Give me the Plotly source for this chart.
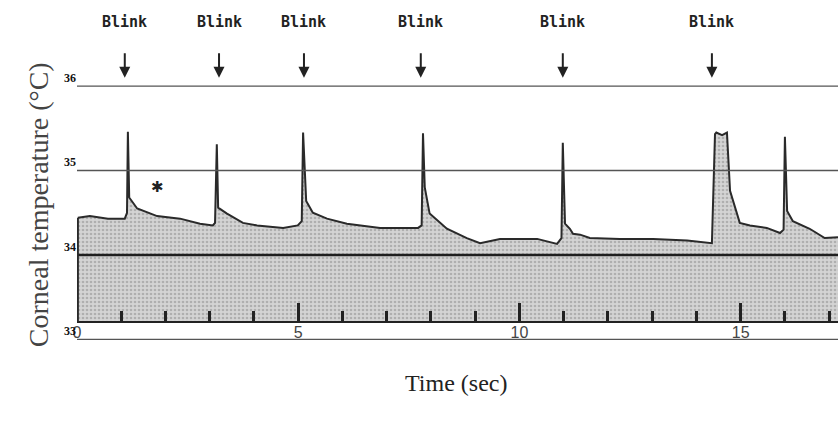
import plotly.graph_objects as go

# ---- data ----
TIME = [0.02, 0.29, 0.70, 1.08, 1.13, 1.15, 1.18, 1.36, 1.81, 2.33, 2.78, 3.07, 3.12, 3.16, 3.19,
        3.39, 3.75, 4.07, 4.66, 4.99, 5.08, 5.11, 5.18, 5.33, 5.65, 6.10, 6.85, 7.71, 7.79, 7.82,
        7.86, 7.97, 8.36, 8.81, 9.11, 9.56, 10.01, 10.40, 10.85, 10.95, 10.98, 11.03, 11.14, 11.21,
        11.37, 11.59, 12.27, 13.02, 13.79, 14.35, 14.42, 14.45, 14.58, 14.69, 14.76, 14.87, 14.98,
        15.21, 15.59, 15.89, 15.97, 16.00, 16.05, 16.18, 16.56, 16.90, 17.20]
TEMP = [34.44, 34.46, 34.43, 34.43, 34.50, 35.46, 34.68, 34.55, 34.46, 34.43, 34.37, 34.35, 34.38,
        35.31, 34.56, 34.49, 34.38, 34.35, 34.32, 34.35, 34.40, 35.45, 34.64, 34.50, 34.43, 34.37,
        34.32, 34.32, 34.35, 35.44, 34.80, 34.49, 34.31, 34.20, 34.14, 34.19, 34.19, 34.19, 34.13,
        34.20, 35.33, 34.37, 34.31, 34.25, 34.24, 34.20, 34.19, 34.19, 34.17, 34.14, 35.43, 35.45,
        35.42, 35.45, 34.76, 34.56, 34.38, 34.35, 34.32, 34.26, 34.30, 35.40, 34.52, 34.40, 34.31,
        34.20, 34.21]
BLINK_TIMES = [1.08, 3.21, 5.13, 7.77, 10.98, 14.35]
BLINK_LABEL = "Blink"
X_TICKS = [0, 5, 10, 15]
X_TICK_TEXT = ["0", "5", "10", "15"]
Y_TICKS = [33, 34, 35, 36]
Y_TICK_TEXT = ["33", "34", "35", "36"]
THIN_LINES_T = [33, 35, 36]
THICK_LINE_T = 34
AXIS_Y = 33.21
ASTERISK = (1.83, 34.81)

X_RANGE = [0, 17.2]
Y_RANGE = [31.95, 37.02]

fig = go.Figure()

# baseline for fill
fig.add_trace(go.Scatter(x=[TIME[0], TIME[-1]], y=[AXIS_Y, AXIS_Y], mode="lines",
                         line=dict(width=0, color="rgba(0,0,0,0)"), hoverinfo="skip",
                         showlegend=False))
fig.add_trace(go.Scatter(x=TIME, y=TEMP, mode="lines", fill="tonexty",
                         fillcolor="#cfcfcf",
                         fillpattern=dict(shape=".", bgcolor="#d4d4d4", fgcolor="#8a8a8a",
                                          size=4, solidity=0.35),
                         line=dict(color="#2a2a2a", width=2), showlegend=False))

shapes = []
for v in THIN_LINES_T:
    shapes.append(dict(type="line", xref="paper", x0=0, x1=1, yref="y", y0=v, y1=v,
                       line=dict(color="#555", width=1.4), layer="above"))
shapes.append(dict(type="line", xref="paper", x0=0, x1=1, yref="y", y0=THICK_LINE_T,
                   y1=THICK_LINE_T, line=dict(color="#1e1e1e", width=2.5), layer="above"))
shapes.append(dict(type="line", xref="x", x0=TIME[0], x1=TIME[0], yref="y", y0=AXIS_Y,
                   y1=TEMP[0], line=dict(color="#2a2a2a", width=2), layer="above"))

annotations = []
for t in BLINK_TIMES:
    annotations.append(dict(x=t, y=36.76, xref="x", yref="y", text="<b>" + BLINK_LABEL + "</b>",
                            showarrow=False,
                            font=dict(family="DejaVu Sans Mono", size=15, color="#222"),
                            yanchor="middle"))
    annotations.append(dict(x=t, y=36.10, xref="x", yref="y", text="", showarrow=True,
                            ax=0, ay=-26, axref="pixel", ayref="pixel",
                            arrowhead=2, arrowsize=1.1, arrowwidth=2, arrowcolor="#222"))
annotations.append(dict(x=ASTERISK[0], y=ASTERISK[1], xref="x", yref="y", text="✱",
                        showarrow=False, font=dict(family="DejaVu Sans", size=15, color="#222")))
annotations.append(dict(x=-0.051, y=0.521, xref="paper", yref="paper", xanchor="center",
                        yanchor="middle",
                        text="Corneal temperature (°C)", textangle=-90, showarrow=False,
                        font=dict(family="Liberation Serif", size=28, color="#444")))
annotations.append(dict(x=0.498, y=0.105, xref="paper", yref="paper", xanchor="center",
                        yanchor="middle", text="Time (sec)", showarrow=False,
                        font=dict(family="Liberation Serif", size=24, color="#222")))

axis_pos = (AXIS_Y - Y_RANGE[0]) / (Y_RANGE[1] - Y_RANGE[0])

fig.update_layout(
    width=838, height=428,
    margin=dict(l=77, r=0, t=0, b=0),
    paper_bgcolor="white", plot_bgcolor="white",
    shapes=shapes, annotations=annotations,
    xaxis=dict(range=X_RANGE, anchor="free", position=axis_pos, showgrid=False,
               zeroline=False, showline=True, linecolor="#222", linewidth=2,
               tickvals=X_TICKS, ticktext=X_TICK_TEXT, ticks="inside", ticklen=18,
               tickwidth=2.5, tickcolor="#222", ticklabelstandoff=-4,
               tickfont=dict(family="Liberation Sans", size=16, color="#444"),
               minor=dict(dtick=1, tick0=0, ticks="inside", ticklen=10, tickwidth=2.5,
                          tickcolor="#222", showgrid=False)),
    yaxis=dict(range=Y_RANGE, showgrid=False, zeroline=False, showline=False,
               tickvals=Y_TICKS, ticktext=["<b>" + s + "</b>" for s in Y_TICK_TEXT],
               ticks="", ticklabelposition="outside top",
               tickfont=dict(family="Liberation Serif", size=12, color="#111")),
)

fig.write_html("out.html")
